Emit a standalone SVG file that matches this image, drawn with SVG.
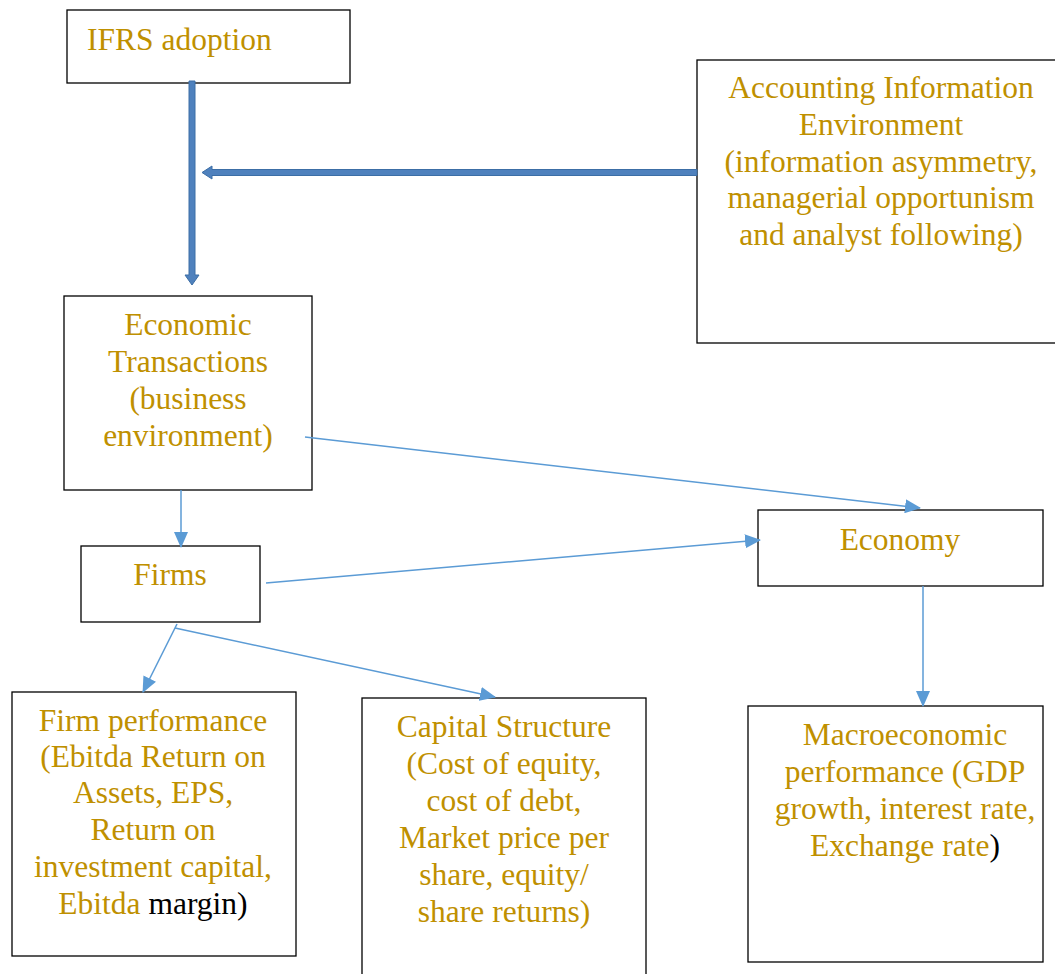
<svg xmlns="http://www.w3.org/2000/svg" width="1055" height="974" viewBox="0 0 1055 974">
<style>
.box{fill:#fff;stroke:#000;stroke-width:1.3}
.t{font-family:"Liberation Serif",Tinos,"Times New Roman","DejaVu Serif",serif;font-size:31.5px;fill:#BF9000}
.c{text-anchor:middle}
.k{fill:#000}
.thin{stroke:#5B9BD5;stroke-width:1.5;fill:none;marker-end:url(#ah)}
.thick{fill:#4F81BD;stroke:#3C6EA6;stroke-width:1}
</style>
<defs>
<marker id="ah" markerWidth="16" markerHeight="14" refX="15" refY="7" orient="auto" markerUnits="userSpaceOnUse" viewBox="0 0 16 14">
<path d="M0,0 L16,7 L0,14 Z" fill="#5B9BD5"/>
</marker>
</defs>
<rect width="1055" height="974" fill="#fff"/>
<g id="n-ifrs"><rect class="box" x="67" y="10" width="283" height="73"/><text class="t" x="87" y="50">IFRS adoption</text></g>
<g id="n-aie"><rect class="box" x="697" y="60" width="362" height="283"/>
<text class="t c" x="881" y="98">Accounting Information</text>
<text class="t c" x="881" y="135">Environment</text>
<text class="t c" x="881" y="172">(information asymmetry,</text>
<text class="t c" x="881" y="208">managerial opportunism</text>
<text class="t c" x="881" y="245">and analyst following)</text></g>
<g id="n-et"><rect class="box" x="64" y="296" width="248" height="194"/>
<text class="t c" x="188" y="335">Economic</text>
<text class="t c" x="188" y="372">Transactions</text>
<text class="t c" x="188" y="409">(business</text>
<text class="t c" x="188" y="446">environment)</text></g>
<g id="n-firms"><rect class="box" x="81" y="546" width="179" height="76"/><text class="t c" x="170" y="585">Firms</text></g>
<g id="n-econ"><rect class="box" x="758" y="510" width="285" height="76"/><text class="t c" x="900" y="550">Economy</text></g>
<g id="n-fp"><rect class="box" x="12" y="692" width="284" height="264"/>
<text class="t c" x="153" y="731">Firm performance</text>
<text class="t c" x="153" y="767">(Ebitda Return on</text>
<text class="t c" x="153" y="803">Assets, EPS,</text>
<text class="t c" x="153" y="840">Return on</text>
<text class="t c" x="153" y="877">investment capital,</text>
<text class="t c" x="153" y="914">Ebitda <tspan class="k">margin)</tspan></text></g>
<g id="n-cs"><rect class="box" x="362" y="698" width="284" height="290"/>
<text class="t c" x="504" y="737">Capital Structure</text>
<text class="t c" x="504" y="774">(Cost of equity,</text>
<text class="t c" x="504" y="811">cost of debt,</text>
<text class="t c" x="504" y="848">Market price per</text>
<text class="t c" x="504" y="885">share, equity/</text>
<text class="t c" x="504" y="922">share returns)</text></g>
<g id="n-macro"><rect class="box" x="748" y="706" width="295" height="256"/>
<text class="t c" x="905" y="745">Macroeconomic</text>
<text class="t c" x="905" y="782">performance (GDP</text>
<text class="t c" x="905" y="819">growth, interest rate,</text>
<text class="t c" x="905" y="856">Exchange rate<tspan class="k">)</tspan></text></g>
<g id="connectors">
<path class="thick" d="M189,81 H195 V275 H199 L192,285 L185,275 H189 Z"/>
<path class="thick" d="M697,169.5 V175.5 H212 V179 L202,172.5 L212,166 V169.5 Z"/>
<line class="thin" x1="305" y1="437" x2="920" y2="508"/>
<line class="thin" x1="266" y1="583" x2="760" y2="540"/>
<line class="thin" x1="181" y1="490" x2="181" y2="547"/>
<line class="thin" x1="177" y1="624" x2="143" y2="692"/>
<line class="thin" x1="175" y1="628" x2="495" y2="697"/>
<line class="thin" x1="923" y1="586" x2="923" y2="706"/>
</g>
</svg>
